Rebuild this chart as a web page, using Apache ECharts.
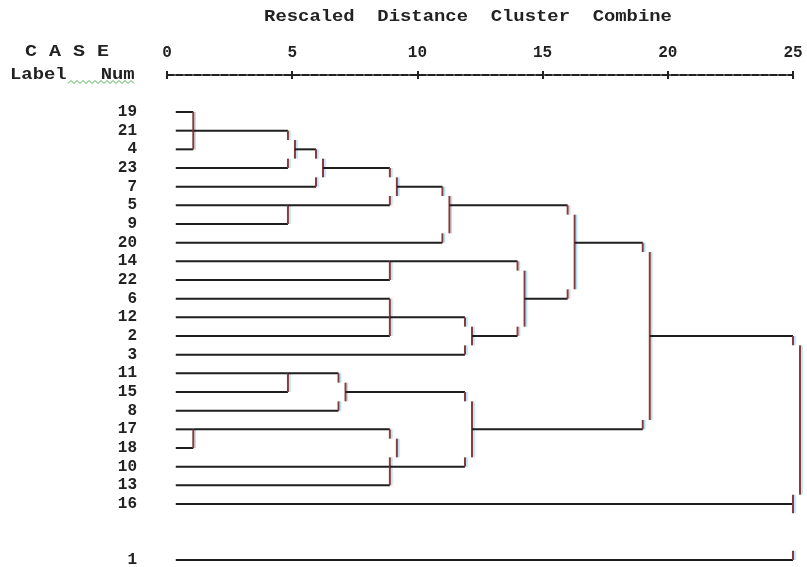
<!DOCTYPE html>
<html>
<head>
<meta charset="utf-8">
<script src="https://cdn.jsdelivr.net/npm/echarts@6/dist/echarts.min.js"></script>
<style>html,body{margin:0;padding:0;background:#fff}#c{width:807px;height:567px}</style>
</head>
<body>
<div id="c"></div>
<script>
// ---- data ----
const rowLabels = ['19','21','4','23','7','5','9','20','14','22','6','12','2','3','11','15','8','17','18','10','13','16','','','1'];
const axisTickValues = [0, 5, 10, 15, 20, 25];
const titleText = 'Rescaled  Distance  Cluster  Combine';
const caseHeader = 'C A S E';
const labelHeader = 'Label   Num';
// merges, in order of combination (children: case labels or earlier merge names)
const mergeNames = ['M1','M2','M3','M4','M5','M6','M7','M8','M9','M10','M11','M12','M13','M14','M15','M16','M17','M18','M19','M20'];
const mergeMembers = [
  ['19','21','4'], ['M1','23'], ['M2','7'], ['5','9'], ['M3','M4'], ['M5','20'],
  ['14','22'], ['6','12','2'], ['M8','3'], ['M7','M9'], ['M6','M10'],
  ['11','15'], ['M12','8'], ['17','18'], ['10','13'], ['M14','M15'], ['M13','M16'],
  ['M11','M17'], ['M18','16'], ['M19','1']
];
const mergeDistance = [1.05, 4.83, 5.95, 4.83, 8.9, 11.0, 8.9, 8.9, 11.9, 14.0, 16.0, 4.83, 6.85, 1.05, 8.9, 8.9, 11.9, 19.0, 25.0, 25.0];
const mergeOutRow = ['21','4','23','5','7','5','14','12','2','6','20','11','15','17','10','10','17','2','16','16'];
const hiddenConnector = ['M20'];

// ---- build segments ----
const LEAF_START = 0.35, STAG = 0.28;
const nodeRow = {}, nodeStart = {};
rowLabels.forEach((l, i) => { if (l) { nodeRow[l] = i; nodeStart[l] = LEAF_START; } });
const segs = []; // [x1,y1,x2,y2,kind] kind 0 = horizontal, 1 = vertical
mergeNames.forEach((name, m) => {
  const kids = mergeMembers[m], d = mergeDistance[m];
  const rows = kids.map(k => nodeRow[k]);
  const rmin = Math.min(...rows), rmax = Math.max(...rows);
  const out = rowLabels.indexOf(mergeOutRow[m]);
  const bracket = (rmax - rmin) === kids.length - 1;
  kids.forEach((k, i) => {
    if (nodeStart[k] < d) segs.push([nodeStart[k], rows[i], d, rows[i], 0]);
    if (!bracket) {
      const dir = rows[i] === rmin ? 0.5 : -0.5;
      segs.push([d, rows[i], d, rows[i] + dir, 1]);
    }
  });
  if (bracket) {
    segs.push([d, rmin, d, rmax, 1]);
    nodeStart[name] = d;
  } else {
    if (hiddenConnector.indexOf(name) < 0) segs.push([d + STAG, rmin + 0.5, d + STAG, rmax - 0.5, 1]);
    nodeStart[name] = rows.indexOf(out) >= 0 ? d : d + STAG;
  }
  nodeRow[name] = out;
});

const FONT = '"Liberation Mono", "DejaVu Sans Mono", monospace';
const squiggle = [];
for (let x = 68, k = 0; x <= 136; x += 3, k++) squiggle.push([x, k % 2 ? 80.5 : 83.5]);

const chart = echarts.init(document.getElementById('c'));
chart.setOption({
  animation: false,
  backgroundColor: '#ffffff',
  grid: { left: 167, right: 14, top: 112, bottom: 7, containLabel: false, outerBoundsMode: 'none' },
  xAxis: [
    { type: 'value', min: 0, max: 25, interval: 5, position: 'top', offset: 37,
      axisLine: { show: true, onZero: false, lineStyle: { color: '#222', width: 2, type: [7, 2] } },
      axisTick: { show: true, length: 4, lineStyle: { color: '#222', width: 2 } },
      axisLabel: { show: true, margin: 14, fontFamily: FONT, fontWeight: 'bold', fontSize: 16, color: '#222',
        customValues: axisTickValues },
      splitLine: { show: false } },
    { type: 'value', min: 0, max: 25, interval: 5, position: 'top', offset: 37,
      axisLine: { show: false, onZero: false },
      axisTick: { show: true, inside: true, length: 4, lineStyle: { color: '#222', width: 2 } },
      axisLabel: { show: false }, splitLine: { show: false } }
  ],
  yAxis: [
    { type: 'category', data: rowLabels, inverse: true, boundaryGap: false,
      axisLine: { show: false, onZero: false }, axisTick: { show: false },
      axisLabel: { interval: 0, margin: 30, fontFamily: FONT, fontWeight: 'bold', fontSize: 16, color: '#222' } },
    { type: 'value', min: 0, max: 24, inverse: true, show: false,
      axisLine: { onZero: false }, splitLine: { show: false } }
  ],
  series: [{
    type: 'custom', xAxisIndex: 0, yAxisIndex: 1, clip: false,
    encode: { x: [0, 2], y: [1, 3] },
    data: segs,
    renderItem: function (params, api) {
      const p1 = api.coord([api.value(0), api.value(1)]);
      const p2 = api.coord([api.value(2), api.value(3)]);
      if (api.value(4) === 0) {
        return { type: 'line', shape: { x1: p1[0], y1: p1[1], x2: p2[0], y2: p2[1] },
          style: { stroke: '#1e1e1e', lineWidth: 2 } };
      }
      return { type: 'group', children: [
        { type: 'line', shape: { x1: p1[0] + 2, y1: p1[1], x2: p2[0] + 2, y2: p2[1] },
          style: { stroke: '#aee0ff', lineWidth: 1.5 } },
        { type: 'line', shape: { x1: p1[0], y1: p1[1], x2: p2[0], y2: p2[1] },
          style: { stroke: '#8b3a3a', lineWidth: 2 } }
      ]};
    }
  }],
  graphic: [
    { type: 'text', x: 468, y: 17, scaleX: 1.18,
      style: { text: titleText, font: 'bold 16px ' + FONT, fill: '#222', align: 'center', verticalAlign: 'middle' } },
    { type: 'text', x: 25, y: 52, scaleX: 1.25,
      style: { text: caseHeader, font: 'bold 16px ' + FONT, fill: '#222', align: 'left', verticalAlign: 'middle' } },
    { type: 'text', x: 10, y: 75, scaleX: 1.18,
      style: { text: labelHeader, font: 'bold 16px ' + FONT, fill: '#222', align: 'left', verticalAlign: 'middle' } },
    { type: 'polyline', shape: { points: squiggle }, style: { stroke: '#4caf50', lineWidth: 1, fill: null } }
  ]
});
</script>
</body>
</html>
